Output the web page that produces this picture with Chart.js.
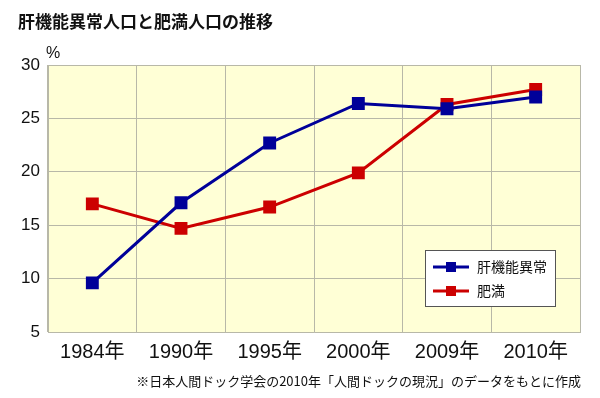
<!DOCTYPE html>
<html>
<head>
<meta charset="utf-8">
<script src="https://cdn.jsdelivr.net/npm/chart.js@4"></script>
<style>
  body { margin: 0; background: #fff; }
  #wrap { position: relative; width: 600px; height: 398px; }
</style>
</head>
<body>
<div id="wrap"><canvas id="chart" width="600" height="398"></canvas></div>
<script>
// data
const years = ["1984年", "1990年", "1995年", "2000年", "2009年", "2010年"];
const liverAbnormal = [9.6, 17.1, 22.7, 26.4, 25.9, 27.0];
const obesity = [17.0, 14.7, 16.7, 19.9, 26.3, 27.7];
const seriesNames = ["肝機能異常", "肥満"];
const titleText = "肝機能異常人口と肥満人口の推移";
const noteText = "※日本人間ドック学会の2010年「人間ドックの現況」のデータをもとに作成";

const JP = "'Liberation Sans', 'Noto Sans CJK JP', sans-serif";

// fills plot area, draws title, unit, footnote and the boxed legend
const decorPlugin = {
  id: "decor",
  beforeDraw(chart) {
    const { ctx, chartArea: a } = chart;
    ctx.save();
    ctx.fillStyle = "#ffffd6";
    ctx.fillRect(a.left, a.top, a.right - a.left, a.bottom - a.top);
    ctx.restore();
  },
  afterDraw(chart) {
    const ctx = chart.ctx;
    ctx.save();
    ctx.fillStyle = "#111";
    ctx.textBaseline = "middle";
    ctx.font = "bold 17px 'Noto Sans CJK JP', sans-serif";
    ctx.fillText(titleText, 18, 22);
    ctx.font = "16px " + JP;
    ctx.fillText("%", 46, 54);
    ctx.font = "13px 'Noto Sans CJK JP', sans-serif";
    ctx.textAlign = "right";
    ctx.fillText(noteText, 581, 381);

    // legend box
    ctx.textAlign = "left";
    ctx.fillStyle = "#fff";
    ctx.fillRect(425, 250, 130, 56);
    ctx.strokeStyle = "#555";
    ctx.lineWidth = 1;
    ctx.strokeRect(425.5, 250.5, 130, 56);
    chart.data.datasets.forEach(function (ds, i) {
      const y = 267 + i * 24;
      ctx.strokeStyle = ds.borderColor;
      ctx.lineWidth = 3;
      ctx.beginPath();
      ctx.moveTo(433, y);
      ctx.lineTo(469, y);
      ctx.stroke();
      ctx.fillStyle = ds.borderColor;
      ctx.fillRect(446, y - 5, 10, 10);
      ctx.fillStyle = "#111";
      ctx.font = "14px 'Noto Sans CJK JP', sans-serif";
      ctx.fillText(ds.label, 477, y);
    });
    ctx.restore();
  },
};

const ctx = document.getElementById("chart").getContext("2d");

new Chart(ctx, {
  type: "line",
  data: {
    labels: years,
    datasets: [
      {
        label: seriesNames[0],
        data: liverAbnormal,
        borderColor: "#000099",
        backgroundColor: "#000099",
        borderWidth: 3,
        pointStyle: "rect",
        pointRadius: 7,
        tension: 0,
      },
      {
        label: seriesNames[1],
        data: obesity,
        borderColor: "#cc0000",
        backgroundColor: "#cc0000",
        borderWidth: 3,
        pointStyle: "rect",
        pointRadius: 7,
        tension: 0,
      },
    ],
  },
  options: {
    responsive: false,
    animation: false,
    layout: { padding: { top: 65, right: 20, bottom: 30, left: 0 } },
    scales: {
      x: {
        offset: true,
        grid: { offset: true, color: "#b8b8a8", drawTicks: false },
        border: { color: "#b8b8a8" },
        ticks: { color: "#111", padding: 8, font: { size: 20, family: JP } },
        afterFit: function (scale) { scale.height = 36; },
      },
      y: {
        min: 5,
        max: 30,
        grid: { color: "#b8b8a8", drawTicks: false },
        border: { color: "#b8b8a8" },
        ticks: { stepSize: 5, color: "#111", padding: 8, font: { size: 17, family: JP } },
        afterFit: function (scale) { scale.width = 48; },
      },
    },
    plugins: {
      legend: { display: false },
      tooltip: { enabled: false },
    },
  },
  plugins: [decorPlugin],
});
</script>
</body>
</html>
